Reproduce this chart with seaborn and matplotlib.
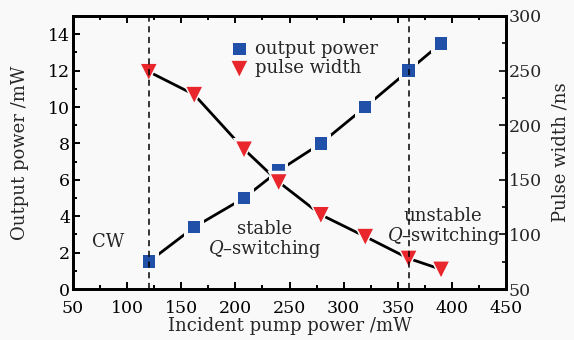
import numpy as np
import pandas as pd
import matplotlib
matplotlib.use("Agg")
import matplotlib.pyplot as plt
import seaborn as sns
from matplotlib.ticker import MultipleLocator

# Data
pump_power = [120, 162, 208, 240, 279, 320, 360, 390]          # mW
output_power = [1.5, 3.4, 5.0, 6.5, 8.0, 10.0, 12.0, 13.5]     # mW
pulse_width = [249, 228, 178, 148, 118, 98, 78, 68]            # ns
regime_bounds = [120, 360]

bg = "#f9f9f9"
blue = "#2150a8"
red = "#e8262b"

sns.set_theme(style="ticks")
plt.rcParams["font.family"] = ["DejaVu Serif"]
plt.rcParams["mathtext.fontset"] = "dejavuserif"
plt.rcParams["xtick.direction"] = "in"
plt.rcParams["ytick.direction"] = "in"

fs_tick = 12.5
fs = 13
df = pd.DataFrame({"pump": pump_power, "power": output_power, "width": pulse_width})

fig = plt.figure(figsize=(5.74, 3.40), dpi=100, facecolor=bg)
ax = fig.add_axes([73 / 574, 1 - 289 / 340, (506 - 73) / 574, (289 - 16) / 340])
ax.set_facecolor(bg)
ax2 = ax.twinx()

# Output power on the left axis
sns.lineplot(data=df, x="pump", y="power", ax=ax, color="black", lw=2.0, zorder=2)
sns.scatterplot(data=df, x="pump", y="power", ax=ax, marker="s", s=200,
                color=bg, edgecolor="none", zorder=3)
sns.scatterplot(data=df, x="pump", y="power", ax=ax, marker="s", s=80,
                color=blue, edgecolor="none", zorder=4, label="output power")

# Pulse width on the right axis
sns.lineplot(data=df, x="pump", y="width", ax=ax2, color="black", lw=2.0, zorder=2)
sns.scatterplot(data=df, x="pump", y="width", ax=ax2, marker="v", s=260,
                color=bg, edgecolor="none", zorder=3)
sns.scatterplot(data=df, x="pump", y="width", ax=ax2, marker="v", s=125,
                color=red, edgecolor="none", zorder=4, label="pulse width")

for xb in regime_bounds:
    ax2.axvline(xb, color="black", lw=1.1, ls=(0, (4, 3)), zorder=6)

ax.set_xlim(50, 450)
ax.set_ylim(0, 15)
ax2.set_ylim(50, 300)

ax.xaxis.set_major_locator(MultipleLocator(50))
ax.xaxis.set_minor_locator(MultipleLocator(25))
ax.yaxis.set_major_locator(MultipleLocator(2))
ax.yaxis.set_minor_locator(MultipleLocator(1))
ax2.yaxis.set_major_locator(MultipleLocator(50))
ax2.yaxis.set_minor_locator(MultipleLocator(25))

ax.tick_params(axis="both", which="both", direction="in", top=True, width=1.4,
               labelsize=fs_tick, colors="black")
ax.tick_params(axis="y", right=False)
ax.tick_params(which="major", length=5)
ax.tick_params(which="minor", length=3)
ax2.tick_params(axis="y", which="both", direction="in", width=1.4,
                labelsize=fs_tick, pad=2)
ax2.tick_params(which="major", length=5)
ax2.tick_params(which="minor", length=3)
ax.tick_params(axis="x", pad=8)
ax.tick_params(axis="y", pad=2)

for a in (ax, ax2):
    for sp in a.spines.values():
        sp.set_linewidth(2.0)
        sp.set_color("black")

ax.set_xlabel("Incident pump power /mW", fontsize=fs, labelpad=0)
ax.set_ylabel("Output power /mW", fontsize=fs, labelpad=14)
ax2.set_ylabel("Pulse width /ns", fontsize=fs, labelpad=7)

# Legend combining both series
h1, l1 = ax.get_legend_handles_labels()
h2, l2 = ax2.get_legend_handles_labels()
if ax.get_legend():
    ax.get_legend().remove()
if ax2.get_legend():
    ax2.get_legend().remove()
ax2.legend(h1 + h2, l1 + l2, loc="upper left", bbox_to_anchor=(0.33, 0.96),
           frameon=False, fontsize=fs, handletextpad=0.25, labelspacing=0.1,
           borderaxespad=0.3, handlelength=1.2)

# Regime annotations
ax.text(82, 2.58, "CW", fontsize=fs, ha="center", va="center")
ax.text(227, 2.7, "stable\n$Q$\u2013switching", fontsize=fs, ha="center",
        va="center", linespacing=1.0)
ax.text(392, 3.38, "unstable\n$Q$\u2013switching", fontsize=fs, ha="center",
        va="center", linespacing=1.0)

fig.savefig("out.png", dpi=100, facecolor=bg)
